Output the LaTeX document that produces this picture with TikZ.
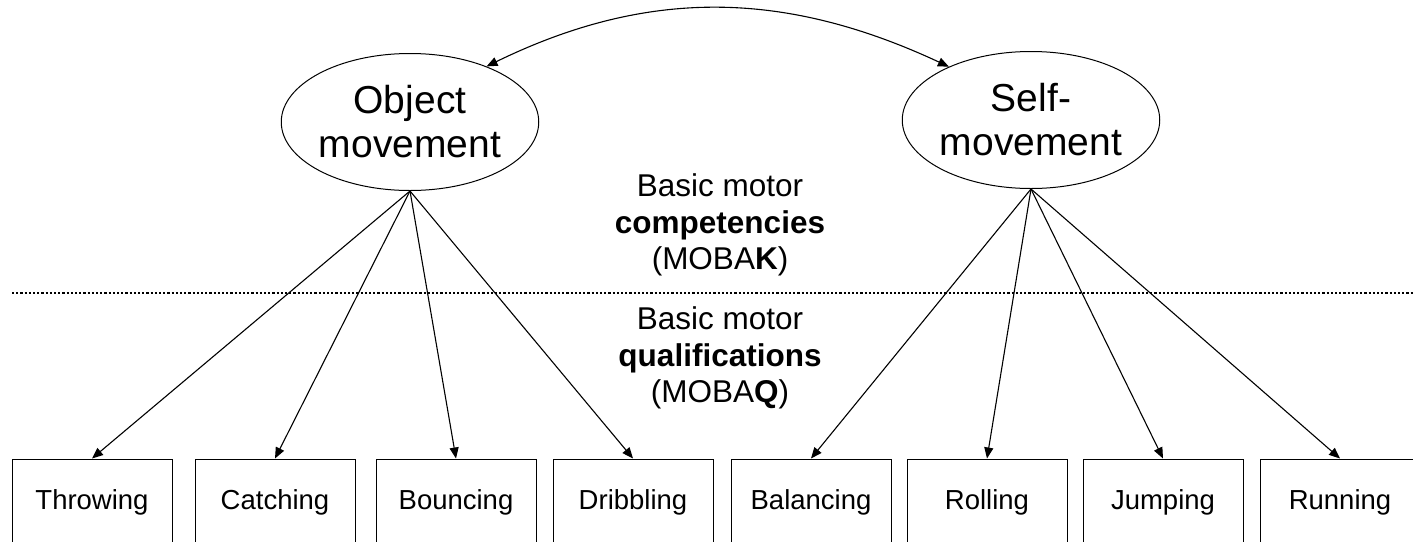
\documentclass[tikz,border=0pt]{standalone}
\usepackage{fontspec}
\setmainfont{Liberation Sans}
\usetikzlibrary{arrows.meta,shapes.geometric}

\begin{document}
\begin{tikzpicture}[x=1pt,y=1pt,
		factor/.style={draw, ellipse, line width=1pt, minimum width=254pt, minimum height=137pt, inner sep=0pt, align=center, font=\fontsize{39}{44}\selectfont},
		skill/.style={draw, rectangle, line width=1pt, minimum width=160pt, minimum height=86pt, font=\fontsize{27.5}{32}\selectfont},
		level/.style={align=center, font=\fontsize{31.5}{36.5}\selectfont},
		link/.style={line width=1.1pt, -{Triangle[length=11pt,width=9pt]}},
		divider/.style={line width=2.4pt, dash pattern=on 2.2pt off 2pt}]
			\useasboundingbox (0,0) rectangle (1413,-541);

			\node[factor] (obj) at (410,-122) {Object\\movement};
			\node[factor] (self) at (1031,-120) {Self-\\movement};

			\draw[line width=1.1pt, {Triangle[length=11pt,width=9pt]}-{Triangle[length=11pt,width=9pt]}] (obj.36) to[out=26,in=155] (self.147);

			\node[level] (comp) at (720,-225) {Basic motor\\\textbf{competencies}\\(MOBA\textbf{K})};
			\node[level] (qual) at (720,-358) {Basic motor\\\textbf{qualifications}\\(MOBA\textbf{Q})};

			\coordinate (sepL) at (12,-293);
			\coordinate (sepR) at (1420,-293);
			\draw[divider] (sepL) -- (sepR);

			\node[skill] (throw) at (92,-502) {Throwing};
			\node[skill] (catch) at (275,-502) {Catching};
			\node[skill] (bounce) at (456,-502) {Bouncing};
			\node[skill] (dribble) at (633,-502) {Dribbling};
			\node[skill] (balance) at (811,-502) {Balancing};
			\node[skill] (roll) at (987,-502) {Rolling};
			\node[skill] (jump) at (1163,-502) {Jumping};
			\node[skill] (run) at (1340,-502) {Running};

			\draw[link] (obj.south) -- (throw.north);
			\draw[link] (obj.south) -- (catch.north);
			\draw[link] (obj.south) -- (bounce.north);
			\draw[link] (obj.south) -- (dribble.north);
			\draw[link] (self.south) -- (balance.north);
			\draw[link] (self.south) -- (roll.north);
			\draw[link] (self.south) -- (jump.north);
			\draw[link] (self.south) -- (run.north);
		\end{tikzpicture}
\end{document}
